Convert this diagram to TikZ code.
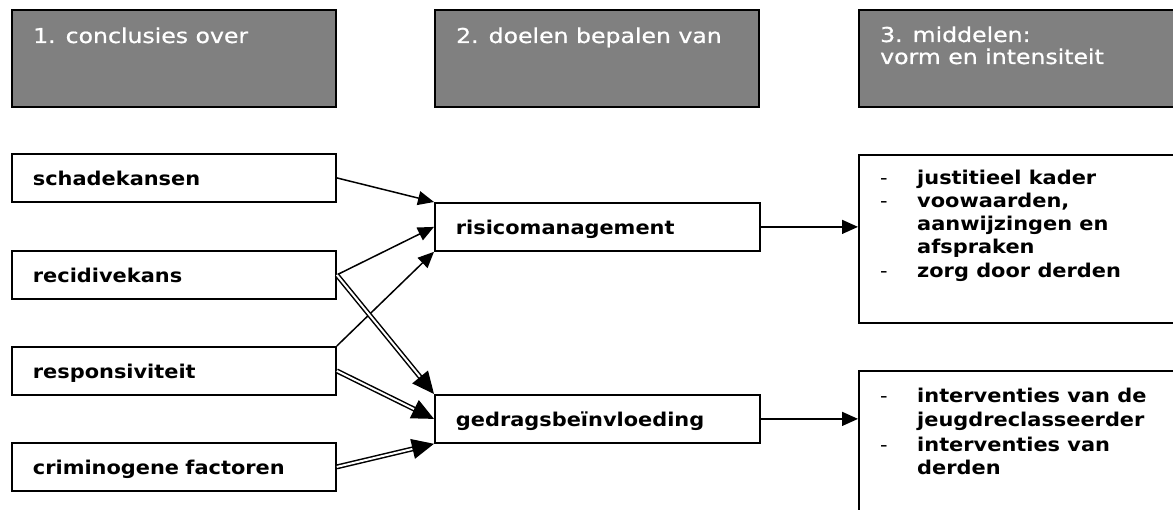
\documentclass[tikz,border=0pt]{standalone}
\usepackage{fontspec}
\setmainfont[FakeStretch=1.1]{DejaVu Sans}
\newfontfamily\hdrfont[FakeStretch=1.15,FakeBold=0.8]{DejaVu Sans}
\usetikzlibrary{arrows.meta,calc}
\definecolor{hdrgray}{RGB}{128,128,128}
\begin{document}
\begin{tikzpicture}[x=1pt,y=-1pt,
  hdr/.style={draw=black,line width=1.8pt,fill=hdrgray,anchor=north west,minimum width=324pt,minimum height=97pt,inner sep=0pt},
  hdrtxt/.style={anchor=base west,text=white,font=\hdrfont\fontsize{20.5}{22}\selectfont,inner sep=0pt},
  box/.style={draw=black,line width=1.8pt,anchor=north west,text width=282pt,align=left,inner xsep=21pt,inner ysep=0pt,minimum height=48pt,text height=16pt,text depth=0pt,font=\bfseries\fontsize{19}{21}\selectfont},
  bigbox/.style={draw=black,line width=1.8pt,anchor=north west,minimum width=330pt,inner sep=0pt},
  lst/.style={anchor=base west,inner sep=0pt,font=\bfseries\fontsize{19}{21}\selectfont},
  dsh/.style={anchor=base west,inner sep=0pt,font=\fontsize{19}{21}\selectfont},
  sarrow/.style={line width=1.5pt,-{Triangle[length=16pt,width=14pt]}},
  dline/.style={double,double distance=2pt,line width=1.5pt},
  darrow/.style={line width=1.5pt,-{Triangle[length=22pt,width=20pt]}}
]
\clip (0,0) rectangle (1173,510);
% headers
\node[hdr] (h1) at (11,9) {};
\node[hdr] (h2) at (434,9) {};
\node[hdr,minimum width=330pt] (h3) at (858,9) {};
\node[hdrtxt] (h1t) at (33,43) {1. conclusies over};
\node[hdrtxt] (h2t) at (456,43) {2. doelen bepalen van};
\node[hdrtxt] (h3t) at (880,42) {3. middelen:};
\node[hdrtxt] (h3u) at (880,64) {vorm en intensiteit};
% left boxes
\node[box] (sch) at (11,153) {schadekansen};
\node[box] (rec) at (11,250) {recidivekans};
\node[box] (res) at (11,346) {responsiviteit};
\node[box] (cri) at (11,442) {criminogene factoren};
% middle boxes
\node[box,text width=283pt] (rm) at (434,202) {risicomanagement};
\node[box,text width=283pt] (gb) at (434,394) {gedragsbeïnvloeding};
% right boxes
\node[bigbox,minimum height=168pt] (rb1) at (858,154) {};
\node[bigbox,minimum height=170pt] (rb2) at (858,370) {};
% list texts
\node[dsh] (d1) at (880,185) {-};
\node[lst] (l1) at (917,185) {justitieel kader};
\node[dsh] (d2) at (880,208) {-};
\node[lst] (l2) at (917,208) {voowaarden,};
\node[lst] (l3) at (917,231) {aanwijzingen en};
\node[lst] (l4) at (917,254) {afspraken};
\node[dsh] (d5) at (880,278) {-};
\node[lst] (l5) at (917,278) {zorg door derden};
\node[dsh] (e1) at (880,403) {-};
\node[lst] (m1) at (917,403) {interventies van de};
\node[lst] (m2) at (917,427) {jeugdreclasseerder};
\node[dsh] (e3) at (880,451) {-};
\node[lst] (m3) at (917,451) {interventies van};
\node[lst] (m4) at (917,475) {derden};
% single arrows
\draw[sarrow] (sch.east) -- (rm.north west);
\draw[sarrow] (rec.east) -- (rm.west);
\draw[sarrow] (res.north east) -- (rm.south west);
\draw[sarrow] (rm.east) -- (rm.east -| rb1.west);
\draw[sarrow] (gb.east) -- (gb.east -| rb2.west);
% double arrows
\draw[dline] (rec.east) -- ($(gb.north west)!20pt!(rec.east)$);
\draw[darrow] ($(gb.north west)!22pt!(rec.east)$) -- (gb.north west);
\draw[dline] (res.east) -- ($(gb.west)!20pt!(res.east)$);
\draw[darrow] ($(gb.west)!22pt!(res.east)$) -- (gb.west);
\draw[dline] (cri.east) -- ($(gb.south west)!20pt!(cri.east)$);
\draw[darrow] ($(gb.south west)!22pt!(cri.east)$) -- (gb.south west);
\end{tikzpicture}
\end{document}
